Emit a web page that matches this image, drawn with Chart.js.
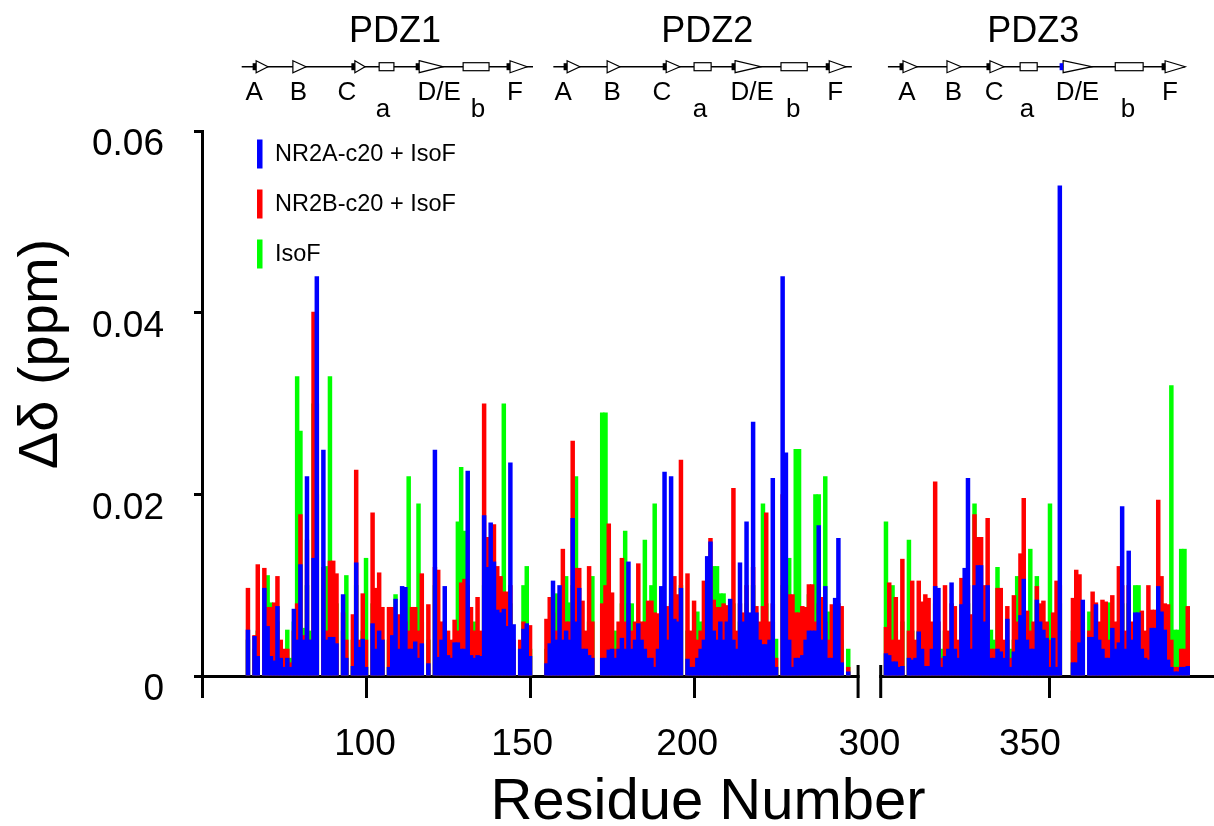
<!DOCTYPE html>
<html>
<head>
<meta charset="utf-8">
<script src="https://cdn.jsdelivr.net/npm/chart.js@4.4.1/dist/chart.umd.min.js"></script>
<style>
html,body{margin:0;padding:0;background:#fff;}
canvas{display:block;}
</style>
</head>
<body>
<canvas id="c" width="1214" height="826"></canvas>
<script>
// ---------------- data ----------------
const residues = [
  64,66,67,69,70,71,72,73,74,75,
  76,77,78,79,80,81,82,83,84,85,
  87,88,89,90,91,93,94,96,97,98,
  99,100,102,103,104,105,107,108,109,110,
  111,112,113,114,115,116,117,119,121,122,
  123,124,125,126,127,128,129,130,131,132,
  133,134,135,136,137,138,139,140,141,142,
  143,144,145,147,148,149,150,155,156,157,
  158,159,160,161,162,163,164,165,166,167,
  168,169,172,173,174,175,176,177,178,179,
  180,181,182,183,184,185,186,187,188,189,
  190,191,192,193,194,195,196,198,199,200,
  201,202,203,204,205,206,207,208,209,210,
  211,212,213,214,215,216,217,218,219,220,
  221,222,223,224,225,227,228,229,230,231,
  232,233,234,235,236,237,238,239,240,241,
  242,243,244,245,247,
  300,301,302,303,304,305,307,308,309,310,
  311,312,313,314,315,316,317,318,319,320,
  321,322,323,324,325,326,327,328,329,330,
  331,332,333,334,335,336,337,338,339,340,
  341,342,343,344,345,346,347,348,349,350,
  351,352,353,357,358,359,360,362,363,364,
  365,366,367,368,369,370,371,372,373,374,
  375,376,377,378,379,380,381,382,383,384,
  385,386,387,388,389,390,391,392
];

const nr2aIsoF = [
  .0051,.0044,.0022,.0097,.0055,.0022,.0017,.0077,.0020,.0010,
  .0020,.0010,.0074,.0040,.0123,.0040,.0220,.0040,.0130,.0440,
  .0249,.0040,.0043,.0043,.0036,.0090,.0020,.0011,.0125,.0032,
  .0041,.0010,.0058,.0030,.0050,.0040,.0010,.0045,.0085,.0030,
  .0099,.0098,.0030,.0030,.0038,.0020,.0036,.0014,.0249,.0021,
  .0040,.0099,.0023,.0020,.0037,.0037,.0030,.0030,.0226,.0023,
  .0020,.0023,.0022,.0177,.0120,.0169,.0126,.0073,.0070,.0074,
  .0055,.0235,.0057,.0030,.0052,.0058,.0022,.0014,.0036,.0105,
  .0040,.0100,.0040,.0050,.0040,.0174,.0060,.0097,.0030,.0030,
  .0023,.0020,.0020,.0020,.0029,.0030,.0020,.0030,.0042,.0030,
  .0126,.0030,.0040,.0058,.0040,.0030,.0020,.0020,.0010,.0030,
  .0099,.0225,.0040,.0220,.0063,.0060,.0097,.0019,.0010,.0010,
  .0020,.0030,.0040,.0132,.0148,.0050,.0040,.0060,.0040,.0060,
  .0085,.0040,.0030,.0125,.0060,.0170,.0070,.0280,.0070,.0040,
  .0035,.0035,.0040,.0218,.0010,.0440,.0246,.0040,.0010,.0020,
  .0020,.0023,.0040,.0050,.0050,.0050,.0166,.0040,.0099,.0020,
  .0020,.0086,.0152,.0015,.0005,
  .0025,.0023,.0016,.0016,.0010,.0011,.0020,.0018,.0020,.0049,
  .0030,.0011,.0011,.0030,.0099,.0097,.0010,.0022,.0030,.0103,
  .0030,.0020,.0079,.0119,.0218,.0030,.0100,.0122,.0122,.0060,
  .0100,.0020,.0020,.0030,.0027,.0020,.0063,.0010,.0027,.0040,
  .0067,.0107,.0040,.0030,.0030,.0084,.0060,.0051,.0042,.0010,
  .0042,.0010,.0540,.0015,.0015,.0037,.0084,.0043,.0043,.0079,
  .0040,.0030,.0020,.0020,.0053,.0030,.0037,.0187,.0030,.0138,
  .0040,.0070,.0070,.0030,.0020,.0018,.0053,.0053,.0099,.0071,
  .0051,.0018,.0010,.0005,.0005,.0010,.0010,.0011
];

const nr2bIsoF = [
  .0097,.0045,.0123,.0119,.0076,.0076,.0081,.0110,.0040,.0030,
  .0030,.0015,.0050,.0080,.0178,.0045,.0150,.0040,.0401,.0300,
  .0120,.0050,.0127,.0127,.0113,.0070,.0040,.0068,.0227,.0040,
  .0091,.0040,.0180,.0097,.0114,.0076,.0076,.0076,.0060,.0068,
  .0060,.0060,.0050,.0076,.0076,.0050,.0113,.0079,.0120,.0117,
  .0060,.0060,.0050,.0040,.0062,.0050,.0103,.0107,.0100,.0076,
  .0050,.0087,.0050,.0300,.0153,.0120,.0167,.0121,.0110,.0093,
  .0093,.0100,.0040,.0040,.0060,.0050,.0056,.0063,.0087,.0070,
  .0050,.0090,.0140,.0060,.0060,.0259,.0119,.0119,.0083,.0050,
  .0121,.0060,.0080,.0100,.0168,.0092,.0030,.0060,.0130,.0060,
  .0080,.0050,.0060,.0124,.0060,.0060,.0083,.0083,.0070,.0069,
  .0069,.0077,.0077,.0080,.0110,.0090,.0238,.0113,.0050,.0083,
  .0040,.0050,.0105,.0100,.0152,.0084,.0076,.0076,.0080,.0078,
  .0076,.0207,.0050,.0080,.0070,.0100,.0060,.0120,.0077,.0060,
  .0077,.0180,.0060,.0080,.0020,.0200,.0100,.0090,.0090,.0070,
  .0070,.0077,.0076,.0101,.0101,.0060,.0080,.0087,.0060,.0040,
  .0079,.0060,.0080,.0077,.0010,
  .0054,.0103,.0040,.0087,.0040,.0129,.0050,.0105,.0040,.0105,
  .0082,.0090,.0086,.0060,.0214,.0060,.0020,.0100,.0050,.0080,
  .0077,.0040,.0108,.0080,.0100,.0068,.0178,.0153,.0153,.0100,
  .0174,.0030,.0030,.0097,.0097,.0040,.0077,.0020,.0089,.0060,
  .0135,.0196,.0072,.0050,.0060,.0099,.0080,.0083,.0060,.0040,
  .0070,.0105,.0100,.0086,.0117,.0112,.0060,.0050,.0093,.0081,
  .0060,.0084,.0082,.0040,.0089,.0060,.0121,.0100,.0050,.0100,
  .0060,.0060,.0060,.0072,.0050,.0100,.0073,.0073,.0194,.0110,
  .0080,.0079,.0040,.0010,.0010,.0030,.0030,.0077
];

const isoF = [
  .0040,.0030,.0050,.0060,.0111,.0081,.0040,.0060,.0030,.0020,
  .0051,.0020,.0060,.0330,.0270,.0053,.0100,.0050,.0300,.0200,
  .0100,.0121,.0330,.0100,.0080,.0050,.0111,.0040,.0100,.0030,
  .0050,.0130,.0080,.0050,.0060,.0040,.0040,.0060,.0090,.0040,
  .0050,.0050,.0220,.0040,.0043,.0190,.0060,.0040,.0100,.0060,
  .0030,.0040,.0030,.0030,.0040,.0170,.0230,.0160,.0080,.0050,
  .0060,.0040,.0030,.0100,.0080,.0060,.0060,.0050,.0080,.0300,
  .0040,.0080,.0030,.0030,.0100,.0121,.0030,.0030,.0040,.0050,
  .0091,.0070,.0060,.0110,.0081,.0100,.0220,.0080,.0050,.0030,
  .0060,.0110,.0290,.0290,.0100,.0050,.0050,.0040,.0080,.0160,
  .0060,.0080,.0050,.0060,.0050,.0150,.0050,.0100,.0190,.0050,
  .0050,.0060,.0050,.0060,.0060,.0050,.0100,.0050,.0030,.0040,
  .0071,.0060,.0060,.0080,.0080,.0121,.0121,.0091,.0091,.0050,
  .0050,.0080,.0040,.0060,.0050,.0080,.0050,.0100,.0050,.0050,
  .0190,.0080,.0050,.0060,.0041,.0100,.0080,.0130,.0050,.0250,
  .0250,.0050,.0050,.0090,.0060,.0200,.0200,.0050,.0220,.0071,
  .0050,.0050,.0060,.0040,.0030,
  .0170,.0060,.0100,.0050,.0030,.0060,.0150,.0050,.0030,.0050,
  .0050,.0040,.0040,.0040,.0080,.0050,.0030,.0050,.0030,.0050,
  .0040,.0030,.0050,.0060,.0080,.0040,.0190,.0080,.0080,.0050,
  .0070,.0051,.0040,.0120,.0050,.0030,.0040,.0030,.0040,.0110,
  .0060,.0080,.0050,.0140,.0050,.0110,.0050,.0050,.0050,.0190,
  .0040,.0040,.0080,.0050,.0060,.0050,.0050,.0071,.0050,.0050,
  .0040,.0050,.0040,.0081,.0050,.0040,.0060,.0080,.0040,.0080,
  .0040,.0100,.0100,.0040,.0030,.0050,.0050,.0040,.0080,.0060,
  .0050,.0050,.0320,.0051,.0051,.0140,.0140,.0040
];

const seriesNames  = ['NR2A-c20 + IsoF', 'NR2B-c20 + IsoF', 'IsoF'];
const seriesColors = ['#0000ff', '#ff0000', '#00ff00'];
const yTicks       = [0, 0.02, 0.04, 0.06];
const xTickMarks   = [50, 100, 150, 200, 350];
const xTickLabels  = ['100', '150', '200', '300', '350'];
const xTitle = 'Residue Number';
const yTitle = '\u0394\u03b4 (ppm)';

// broken residue axis: 250 | 298.4
const breakFrom = 250, breakTo = 298.4, breakGap = 6.9;
const toAxis = r => r <= breakFrom ? r : r - (breakTo - breakFrom) + breakGap;
const axisMin = 50, axisMax = toAxis(400);
const breakCenter = (breakFrom + toAxis(breakTo)) / 2;
const xLabelPos = [toAxis(99.7), toAxis(147.6), toAxis(197.9), breakCenter, toAxis(343.9)];

// PDZ secondary-structure diagrams (residue numbers)
const topology = [
  {name:'PDZ1', at:108.8, line:[62.1,150.9],
   strands:[[66.5,70.1,1],[77.7,81.7,0],[96.6,99.7,1],[116.2,123.5,1],[143.9,149.1,1]],
   helices:[[104,108.5],[129.6,137.5]],
   labels:[['A',65.9],['B',79.4],['C',94.2],['D/E',122.3],['F',145.4]],
   hLabels:[['a',105.2],['b',134.1]]},
  {name:'PDZ2', at:204, line:[157.1,248.1],
   strands:[[161.3,165.2,1],[173.5,177.4,0],[191.5,195.7,1],[212.5,220.4,1],[241.2,246.3,1]],
   helices:[[200,205.2],[226.5,234.5]],
   labels:[['A',160.1],['B',175],['C',190.2],['D/E',217.7],['F',243]],
   hLabels:[['a',201.8],['b',230.2]]},
  {name:'PDZ3', at:344.9, line:[300.6,391.2],
   strands:[[305.2,309.5,1],[318.6,322.9,0],[331.7,336,1],[354,362.8,2],[385.1,391.2,1]],
   helices:[[340.9,346.1],[369.9,378.4]],
   labels:[['A',306.4],['B',320.6],['C',333],['D/E',358.4],['F',386.6]],
   hLabels:[['a',343],['b',373.8]]}
];

const FONT = '"Liberation Sans", Arial, Helvetica, sans-serif';
Chart.defaults.font.family = FONT;
Chart.defaults.color = '#000';

const decorations = {
  id: 'decorations',
  afterDraw(chart) {
    const ctx = chart.ctx, ca = chart.chartArea, xs = chart.scales.x;
    const px = r => xs.getPixelForValue(toAxis(r));
    ctx.save();

    // axis break
    const xb1 = xs.getPixelForValue(breakFrom), xb2 = xs.getPixelForValue(toAxis(breakTo));
    ctx.fillStyle = '#fff';
    ctx.fillRect(xb1 + 1.5, ca.bottom - 3, xb2 - xb1 - 3, 6);
    ctx.strokeStyle = '#000'; ctx.lineWidth = 3;
    ctx.beginPath();
    ctx.moveTo(xb1, ca.bottom - 11); ctx.lineTo(xb1, ca.bottom + 22);
    ctx.moveTo(xb2, ca.bottom - 11); ctx.lineTo(xb2, ca.bottom + 22);
    ctx.stroke();

    // legend
    ctx.font = '23.5px ' + FONT;
    ctx.textAlign = 'left'; ctx.textBaseline = 'alphabetic';
    seriesNames.forEach((n, k) => {
      const y0 = ca.top + 8.5 + k * 50;
      ctx.fillStyle = seriesColors[k];
      ctx.fillRect(ca.left + 55, y0, 5.5, 29);
      ctx.fillStyle = '#000';
      ctx.fillText(n, ca.left + 73, y0 + 21.5);
    });

    // y title
    ctx.save();
    ctx.translate(42, 354);
    ctx.rotate(-Math.PI / 2);
    ctx.font = '56px ' + FONT;
    ctx.textAlign = 'center'; ctx.textBaseline = 'middle';
    ctx.fillText(yTitle, 0, 0);
    ctx.restore();

    // topology diagrams
    const ly = 66.7;
    topology.forEach(d => {
      ctx.strokeStyle = '#000'; ctx.lineWidth = 1.5;
      ctx.beginPath(); ctx.moveTo(px(d.line[0]), ly); ctx.lineTo(px(d.line[1]), ly); ctx.stroke();
      ctx.lineWidth = 1.2;
      d.helices.forEach(h => {
        const x1 = px(h[0]), x2 = px(h[1]);
        ctx.fillStyle = '#fff'; ctx.fillRect(x1, ly - 4, x2 - x1, 8);
        ctx.strokeRect(x1, ly - 4, x2 - x1, 8);
      });
      d.strands.forEach(s => {
        const x1 = px(s[0]), x2 = px(s[1]);
        ctx.fillStyle = '#fff';
        ctx.beginPath(); ctx.moveTo(x1, ly - 6); ctx.lineTo(x2, ly); ctx.lineTo(x1, ly + 6); ctx.closePath();
        ctx.fill(); ctx.stroke();
        if (s[2]) {
          ctx.fillStyle = s[2] === 2 ? '#0000ff' : '#000';
          ctx.fillRect(x1 - 3.5, ly - 3.5, 3.5, 7);
        }
      });
      ctx.fillStyle = '#000'; ctx.textAlign = 'center'; ctx.textBaseline = 'alphabetic';
      ctx.font = '36px ' + FONT;
      ctx.fillText(d.name, px(d.at), 42);
      ctx.font = '26px ' + FONT;
      d.labels.forEach(l => ctx.fillText(l[0], px(l[1]), 99.5));
      d.hLabels.forEach(l => ctx.fillText(l[0], px(l[1]), 117));
    });
    ctx.restore();
  }
};

const seriesValues = [nr2aIsoF, nr2bIsoF, isoF];

new Chart(document.getElementById('c'), {
  type: 'bar',
  data: {
    datasets: seriesNames.map((name, k) => ({
      label: name,
      data: residues.map((r, i) => ({ x: toAxis(r), y: seriesValues[k][i] })),
      backgroundColor: seriesColors[k],
      borderWidth: 0,
      barPercentage: 1.37,
      categoryPercentage: 1,
      grouped: false
    }))
  },
  options: {
    responsive: false,
    animation: false,
    devicePixelRatio: 1,
    layout: { padding: { top: 131, left: 62, right: 0, bottom: 0 } },
    plugins: { legend: { display: false }, tooltip: { enabled: false } },
    scales: {
      x: {
        type: 'linear', position: 'bottom', min: axisMin, max: axisMax, offset: false, weight: 0,
        grid: { display: true, drawOnChartArea: false, drawTicks: true, tickLength: 22, tickWidth: 3, tickColor: '#000', offset: false },
        border: { display: true, width: 3, color: '#000' },
        ticks: { display: false },
        afterBuildTicks: s => { s.ticks = xTickMarks.map(v => ({ value: toAxis(v) })); }
      },
      xl: {
        type: 'linear', position: 'bottom', min: axisMin, max: axisMax, offset: false, weight: 1,
        grid: { display: false, drawTicks: false, offset: false },
        border: { display: false },
        ticks: { font: { size: 37, lineHeight: 1.2 }, color: '#000', padding: 24.8, maxRotation: 0, autoSkip: false,
                 callback: (v, i) => xTickLabels[i] },
        afterBuildTicks: s => { s.ticks = xLabelPos.map(v => ({ value: v })); },
        title: { display: true, text: xTitle, font: { size: 58, lineHeight: '16px' }, color: '#000', padding: { top: 3, bottom: 15 } }
      },
      y: {
        type: 'linear', position: 'left', min: 0, max: 0.06,
        grid: { drawOnChartArea: false, tickLength: 8, tickWidth: 3, tickColor: '#000' },
        border: { display: true, width: 3, color: '#000' },
        ticks: { font: { size: 37 }, color: '#000', padding: 30, labelOffset: 14,
                 callback: v => v === 0 ? '0' : v.toFixed(2) },
        afterBuildTicks: s => { s.ticks = yTicks.map(v => ({ value: v })); }
      }
    }
  },
  plugins: [decorations]
});
</script>
</body>
</html>
